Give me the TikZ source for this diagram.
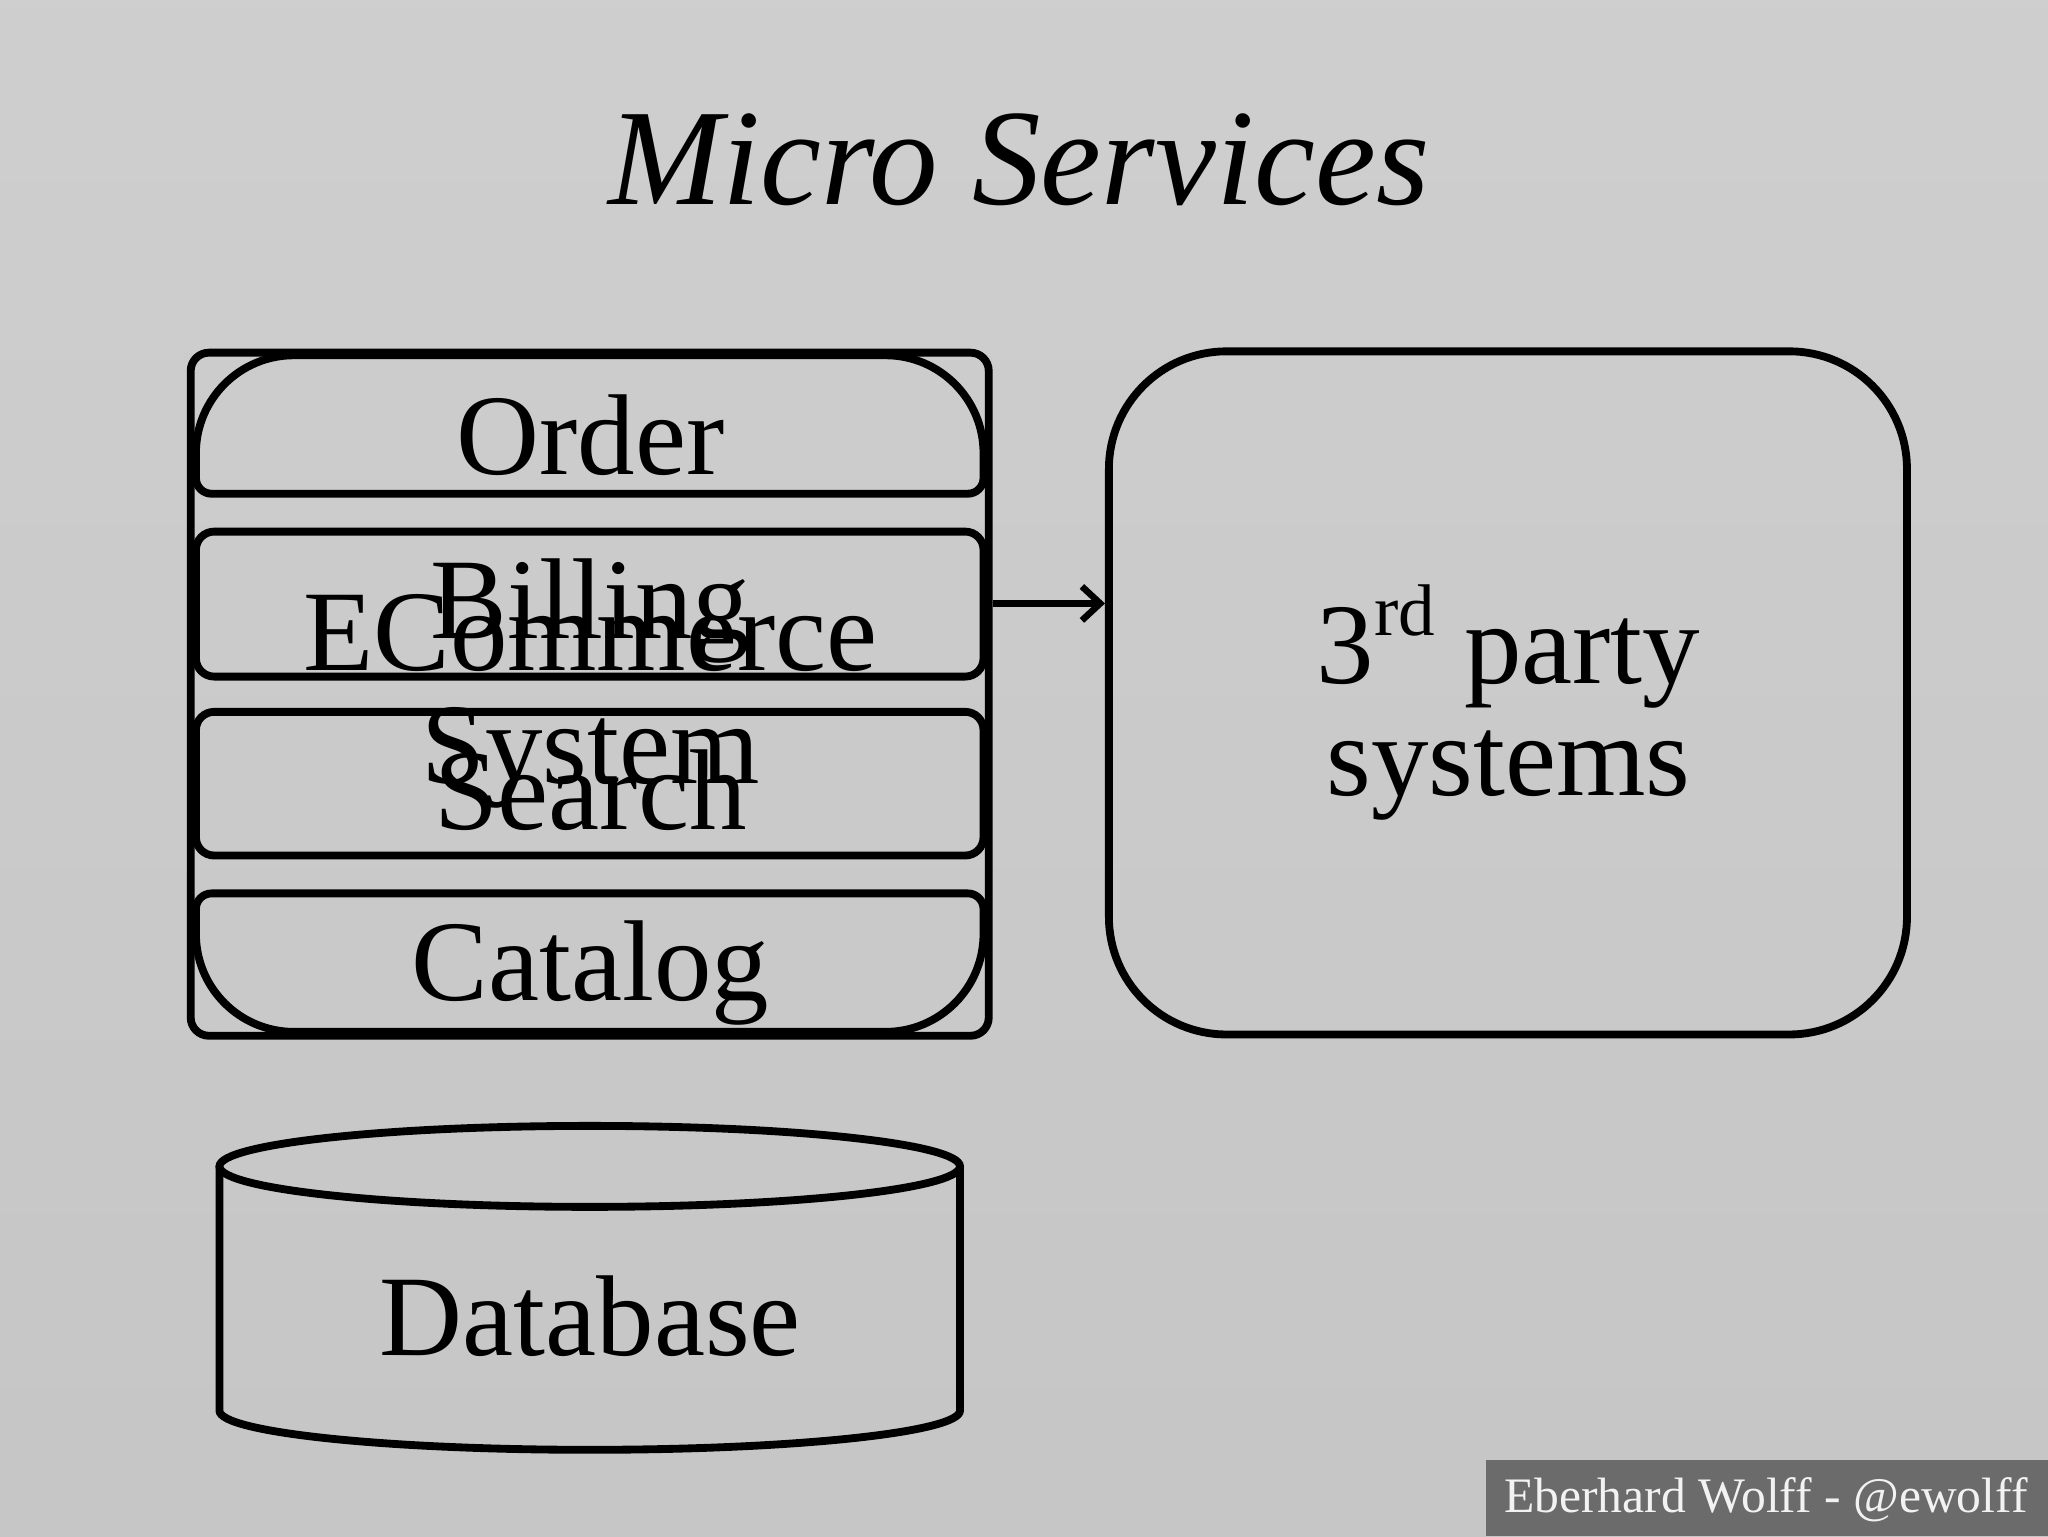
\documentclass[tikz,border=0pt]{standalone}
\usepackage{fontspec}
\setmainfont{Liberation Serif}
\usetikzlibrary{arrows.meta}
\begin{document}
\begin{tikzpicture}[x=1pt,y=-1pt,
  box/.style={line width=6pt,draw=black},
  lbl/.style={font=\fontsize{88}{92}\selectfont,text=black,align=center},
]
\useasboundingbox (0,0) rectangle (1568,1176);
\fill[top color=gray!38,bottom color=gray!45] (0,0) rectangle (1568,1176);
\node (title) at (780,122) {\fontsize{105}{110}\selectfont\itshape Micro Services};
% ECommerce outer
\draw[box,rounded corners=14pt] (146,270) rectangle (757,793);
% Order
\draw[box] (150,378) [rounded corners=12pt] -- (753,378) [rounded corners=75pt] -- (753,272) -- (150,272) [rounded corners=12pt] -- cycle;
% Billing
\draw[box,rounded corners=14pt] (150,407) rectangle (753,518);
% Search
\draw[box,rounded corners=14pt] (150,545) rectangle (753,655);
% Catalog
\draw[box] (150,684) [rounded corners=12pt] -- (753,684) [rounded corners=75pt] -- (753,790) -- (150,790) [rounded corners=12pt] -- cycle;
\node[lbl] (order) at (452,333) {Order};
\node[lbl] (billing) at (452,468) {Billing};
\node[lbl] (search) at (452,605) {Search};
\node[lbl] (catalog) at (452,745) {Catalog};
\node[lbl] (ecom) at (452,537) {ECommerce\\[-6pt]System};
% 3rd party
\draw[box,rounded corners=90pt] (849,269) rectangle (1460,792);
\node[lbl] (third) at (1155,538) {3\raisebox{0.42em}{\fontsize{56}{58}\selectfont rd} party\\[-6pt]systems};
\coordinate (astart) at (760,462);
\coordinate (aend) at (846,462);
\draw[line width=6pt,-{Straight Barb[length=14pt,width=26pt,line width=5pt]}] (astart) -- (aend);
% Database
\draw[box] (168,893) -- (168,1080) arc[start angle=180,end angle=0,x radius=283.5,y radius=30] -- (735,893);
\draw[box] (451.5,893) ellipse[x radius=283.5,y radius=31];
\node[lbl] (db) at (452,1008) {Database};
% footer
\fill[gray!55!black!80] (1138,1118) rectangle (1568,1176);
\node[text=white!90!gray,font=\fontsize{38}{40}\selectfont] (foot) at (1352,1148) {Eberhard Wolff - @ewolff};
\end{tikzpicture}
\end{document}
